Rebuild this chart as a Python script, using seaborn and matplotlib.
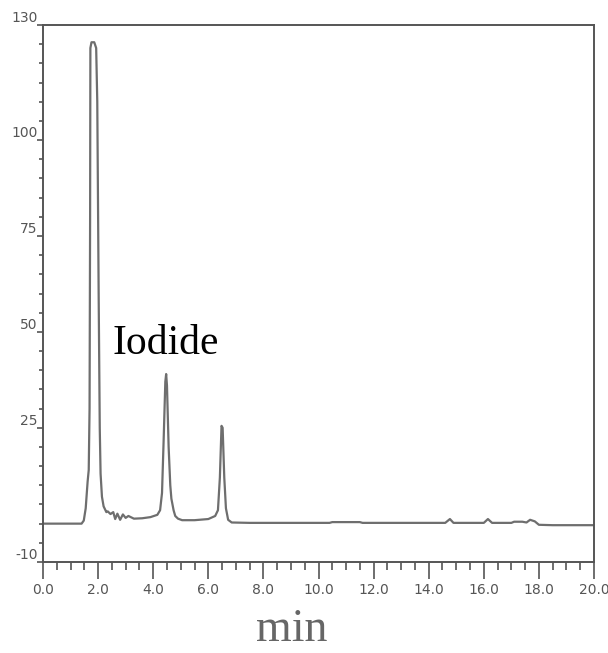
"""Chromatogram with the iodide peak labelled."""
import numpy as np
import pandas as pd
import matplotlib
matplotlib.use("Agg")
import matplotlib.pyplot as plt
from matplotlib.ticker import MultipleLocator, FixedLocator
import seaborn as sns

# retention time (min) and detector signal
TIME = [0.0, 1.0, 1.40, 1.48, 1.55, 1.62, 1.66, 1.69, 1.71, 1.72, 1.76, 1.86,
        1.93, 1.97, 2.02, 2.06, 2.09, 2.14, 2.20, 2.30, 2.35, 2.45, 2.55, 2.62,
        2.70, 2.80, 2.90, 3.00, 3.10, 3.30, 3.60, 3.90, 4.15, 4.25, 4.32, 4.38,
        4.44, 4.47, 4.50, 4.56, 4.62, 4.66, 4.70, 4.74, 4.80, 4.90, 5.05, 5.50,
        6.00, 6.25, 6.35, 6.42, 6.48, 6.52, 6.58, 6.64, 6.72, 6.85, 7.50, 8.30,
        10.4, 10.5, 11.5, 11.6, 14.6, 14.77, 14.9, 16.0, 16.15, 16.3, 17.0,
        17.1, 17.4, 17.55, 17.68, 17.85, 18.0, 18.5, 20.0]
SIGNAL = [0.0, 0.0, 0.0, 0.8, 4.0, 11.0, 14.0, 30.0, 80.0, 124.0, 125.5, 125.5,
          124.0, 110.0, 60.0, 25.0, 13.0, 7.0, 4.5, 3.0, 3.2, 2.5, 3.0, 1.2,
          2.6, 1.0, 2.4, 1.5, 2.0, 1.3, 1.4, 1.7, 2.3, 3.5, 8.0, 22.0,
          37.0, 39.0, 36.0, 20.0, 10.0, 6.5, 5.0, 3.5, 2.0, 1.3, 0.9, 0.9,
          1.2, 2.0, 3.5, 12.0, 25.5, 25.0, 12.0, 4.0, 1.0, 0.3, 0.2, 0.2,
          0.2, 0.4, 0.4, 0.2, 0.2, 1.2, 0.2, 0.2, 1.2, 0.2, 0.2,
          0.5, 0.5, 0.3, 1.0, 0.6, -0.3, -0.4, -0.4]

Y_MAJOR = [-10, 25, 50, 75, 100, 130]
PEAK_LABEL = "Iodide"
X_LABEL = "min"


def main() -> int:
    df = pd.DataFrame({"time": TIME, "signal": SIGNAL})

    sns.set_style("ticks")
    plt.rcParams["axes.unicode_minus"] = False
    fig = plt.figure(figsize=(6.08, 6.53), dpi=100)
    ax = fig.add_axes([43 / 608, 91 / 653, 551 / 608, 537 / 653])

    sns.lineplot(data=df, x="time", y="signal", ax=ax, color="#6e6e6e",
                 linewidth=1.6, sort=False, estimator=None)

    ax.set_xlim(0, 20)
    ax.set_ylim(-10, 130)
    ax.set_xlabel("")
    ax.set_ylabel("")

    ax.xaxis.set_major_locator(MultipleLocator(2))
    ax.xaxis.set_minor_locator(MultipleLocator(0.5))
    ax.xaxis.set_major_formatter(lambda v, p: f"{v:.1f}")
    ax.yaxis.set_major_locator(FixedLocator(Y_MAJOR))
    ax.yaxis.set_minor_locator(MultipleLocator(5))

    ax.tick_params(axis="x", which="major", length=12, width=1.2,
                   color="#555555", labelsize=10, labelcolor="#555555", pad=3)
    ax.tick_params(axis="x", which="minor", length=6, width=1.2, color="#555555")
    ax.tick_params(axis="y", which="major", length=4, width=1.2,
                   color="#555555", labelsize=10, labelcolor="#555555", pad=0)
    ax.tick_params(axis="y", which="minor", length=3, width=1.2, color="#555555")
    for lab in ax.get_yticklabels():
        lab.set_verticalalignment("bottom")

    for side in ["left", "right", "top", "bottom"]:
        ax.spines[side].set_visible(True)
        ax.spines[side].set_color("#555555")
        ax.spines[side].set_linewidth(1.4)

    ax.text(2.54, 44.2, PEAK_LABEL, fontsize=30, family="Liberation Serif",
            color="black", ha="left", va="baseline")
    fig.text(292 / 608, 2 / 653, X_LABEL, fontsize=33, family="Liberation Serif",
             color="#666666", ha="center", va="bottom")

    fig.savefig("out.png", dpi=100)
    plt.close(fig)
    return 0


if __name__ == "__main__":
    raise SystemExit(main())
